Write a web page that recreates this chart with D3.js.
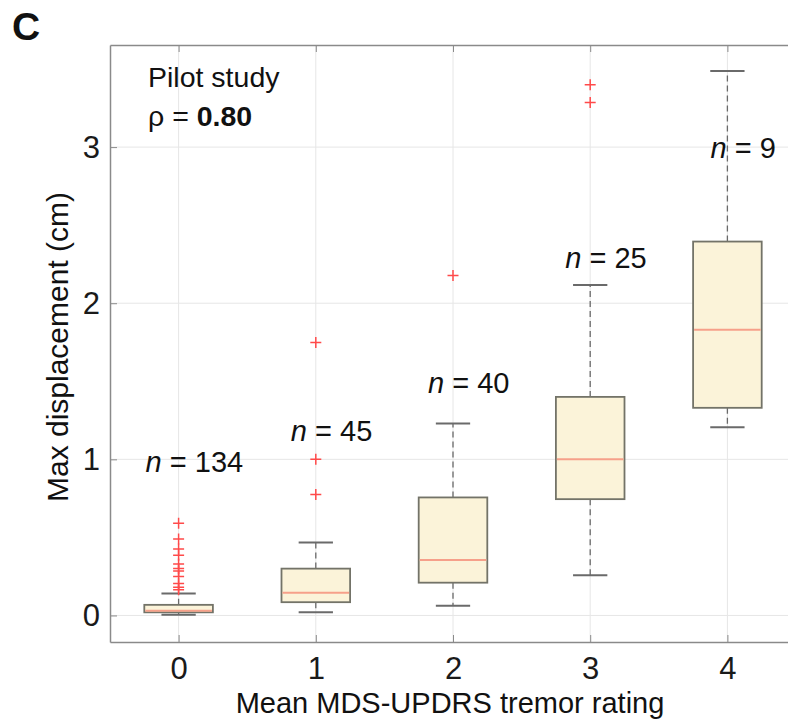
<!DOCTYPE html>
<html>
<head>
<meta charset="utf-8">
<script src="https://cdn.jsdelivr.net/npm/d3@7"></script>
<style>
  body { margin: 0; background: #fff; }
  text { font-family: "Liberation Sans", Arial, Helvetica, sans-serif; }
</style>
</head>
<body>
<div id="chart"></div>
<script>
// Box statistics, one entry per tremor rating
const ratings = [0, 1, 2, 3, 4];
const q1 = [0.02, 0.085, 0.21, 0.745, 1.33];
const medians = [0.03, 0.145, 0.355, 1.0, 1.83];
const q3 = [0.068, 0.30, 0.756, 1.40, 2.395];
const whiskerLow = [0.005, 0.02, 0.062, 0.258, 1.205];
const whiskerHigh = [0.14, 0.467, 1.23, 2.117, 3.487];
const outliers = [
    [0.59, 0.49, 0.425, 0.385, 0.33, 0.30, 0.285, 0.25, 0.205, 0.18, 0.165],
    [1.748, 1.0, 0.775],
    [2.178],
    [3.40, 3.285],
    []
];
const counts = [134, 45, 40, 25, 9];
const countLabelY = [0.92, 1.12, 1.426, 2.224, 2.93];
const xTicks = [0, 1, 2, 3, 4];
const yTicks = [0, 1, 2, 3];

let width = 788;
let height = 720;

let margin = { top: 45, left: 110, bottom: 78, right: -8 };

let svg = d3
    .select("#chart")
    .append("svg")
    .attr("width", width)
    .attr("height", height);

let x = d3
    .scaleLinear()
    .domain([-0.5, 4.5])
    .range([margin.left, width - margin.right]);
let y = d3
    .scaleLinear()
    .domain([-0.17, 3.654])
    .range([height - margin.bottom, margin.top]);

const boxHalf = 0.25;
const capHalf = 0.125;

// grid
let grid = svg.append("g");
grid.selectAll(".gx")
    .data(xTicks)
    .enter()
    .append("line")
    .attr("x1", (d) => x(d))
    .attr("x2", (d) => x(d))
    .attr("y1", y.range()[0])
    .attr("y2", y.range()[1])
    .attr("stroke", "#e6e6e6")
    .attr("stroke-width", 1);
grid.selectAll(".gy")
    .data(yTicks)
    .enter()
    .append("line")
    .attr("x1", x.range()[0])
    .attr("x2", x.range()[1])
    .attr("y1", (d) => y(d))
    .attr("y2", (d) => y(d))
    .attr("stroke", "#e6e6e6")
    .attr("stroke-width", 1);

// axes (MATLAB style, ticks pointing inward)
svg.append("g")
    .attr("transform", "translate(0," + y.range()[0] + ")")
    .call(d3.axisBottom(x).tickValues(xTicks).tickFormat(d3.format("d"))
        .tickSizeInner(-7).tickSizeOuter(0).tickPadding(15))
    .call((g) => g.select(".domain").attr("stroke", "#8a8a8a").attr("stroke-width", 1.5))
    .call((g) => g.selectAll(".tick line").attr("stroke", "#8a8a8a"))
    .call((g) => g.selectAll("text").attr("font-size", 31).attr("fill", "#1a1a1a"));

svg.append("g")
    .attr("transform", "translate(" + x.range()[0] + ",0)")
    .call(d3.axisLeft(y).tickValues(yTicks).tickFormat(d3.format("d"))
        .tickSizeInner(-7).tickSizeOuter(0).tickPadding(10))
    .call((g) => g.select(".domain").attr("stroke", "#8a8a8a").attr("stroke-width", 1.5))
    .call((g) => g.selectAll(".tick line").attr("stroke", "#8a8a8a"))
    .call((g) => g.selectAll("text").attr("font-size", 31).attr("fill", "#1a1a1a"));

svg.append("g")
    .attr("transform", "translate(0," + y.range()[1] + ")")
    .call(d3.axisTop(x).tickValues(xTicks).tickSizeInner(-7).tickSizeOuter(0).tickFormat(""))
    .call((g) => g.select(".domain").attr("stroke", "#8a8a8a").attr("stroke-width", 1.5))
    .call((g) => g.selectAll(".tick line").attr("stroke", "#8a8a8a"));

// boxes
let boxes = svg.append("g")
    .selectAll("g")
    .data(ratings)
    .enter()
    .append("g");

// dashed whiskers
boxes.append("line")
    .attr("x1", (d) => x(d))
    .attr("x2", (d) => x(d))
    .attr("y1", (d, i) => y(q3[i]))
    .attr("y2", (d, i) => y(whiskerHigh[i]))
    .attr("stroke", "#6a6a6a")
    .attr("stroke-width", 1.3)
    .attr("stroke-dasharray", "6,4");
boxes.append("line")
    .attr("x1", (d) => x(d))
    .attr("x2", (d) => x(d))
    .attr("y1", (d, i) => y(q1[i]))
    .attr("y2", (d, i) => y(whiskerLow[i]))
    .attr("stroke", "#6a6a6a")
    .attr("stroke-width", 1.3)
    .attr("stroke-dasharray", "6,4");

// caps
[whiskerHigh, whiskerLow].forEach((w) => {
    boxes.append("line")
        .attr("x1", (d) => x(d - capHalf))
        .attr("x2", (d) => x(d + capHalf))
        .attr("y1", (d, i) => y(w[i]))
        .attr("y2", (d, i) => y(w[i]))
        .attr("stroke", "#6a6a6a")
        .attr("stroke-width", 2);
});

boxes.append("rect")
    .attr("x", (d) => x(d - boxHalf))
    .attr("width", (d) => x(d + boxHalf) - x(d - boxHalf))
    .attr("y", (d, i) => y(q3[i]))
    .attr("height", (d, i) => y(q1[i]) - y(q3[i]))
    .attr("fill", "#fbf3d9")
    .attr("stroke", "#737368")
    .attr("stroke-width", 1.8);

boxes.append("line")
    .attr("x1", (d) => x(d - boxHalf) + 1)
    .attr("x2", (d) => x(d + boxHalf) - 1)
    .attr("y1", (d, i) => y(medians[i]))
    .attr("y2", (d, i) => y(medians[i]))
    .attr("stroke", "#f6a08a")
    .attr("stroke-width", 2);

// outliers as red plus signs
boxes.each(function (d, i) {
    d3.select(this)
        .selectAll("path.out")
        .data(outliers[i])
        .enter()
        .append("path")
        .attr("class", "out")
        .attr("d", (v) => {
            const cx = x(d), cy = y(v), s = 5.5;
            return "M" + (cx - s) + "," + cy + "H" + (cx + s) + "M" + cx + "," + (cy - s) + "V" + (cy + s);
        })
        .attr("stroke", "#ff4a4a")
        .attr("stroke-width", 1.5)
        .attr("fill", "none");
});

// n = labels
let nLabels = svg.append("g")
    .selectAll("text")
    .data(ratings)
    .enter()
    .append("text")
    .attr("x", (d) => x(d + 0.115))
    .attr("y", (d, i) => y(countLabelY[i]))
    .attr("text-anchor", "middle")
    .attr("font-size", 29)
    .attr("fill", "#111");
nLabels.append("tspan").attr("font-style", "italic").text("n");
nLabels.append("tspan").text((d, i) => " = " + counts[i]);

// annotation
svg.append("text")
    .attr("x", 148)
    .attr("y", 87)
    .attr("font-size", 28.5)
    .attr("fill", "#111")
    .text("Pilot study");
let rho = svg.append("text")
    .attr("x", 148)
    .attr("y", 126)
    .attr("font-size", 28.5)
    .attr("fill", "#111");
rho.append("tspan").text("ρ = ");
rho.append("tspan").attr("font-weight", "bold").text("0.80");

// axis titles
svg.append("text")
    .attr("x", 450)
    .attr("y", 713)
    .attr("text-anchor", "middle")
    .attr("font-size", 29)
    .attr("fill", "#111")
    .text("Mean MDS-UPDRS tremor rating");
svg.append("text")
    .attr("transform", "translate(68," + 347 + ") rotate(-90)")
    .attr("text-anchor", "middle")
    .attr("font-size", 30)
    .attr("fill", "#111")
    .text("Max displacement (cm)");

// panel letter
svg.append("text")
    .attr("x", 12)
    .attr("y", 40)
    .attr("font-size", 39)
    .attr("font-weight", "bold")
    .attr("fill", "#111")
    .text("C");
</script>
</body>
</html>
